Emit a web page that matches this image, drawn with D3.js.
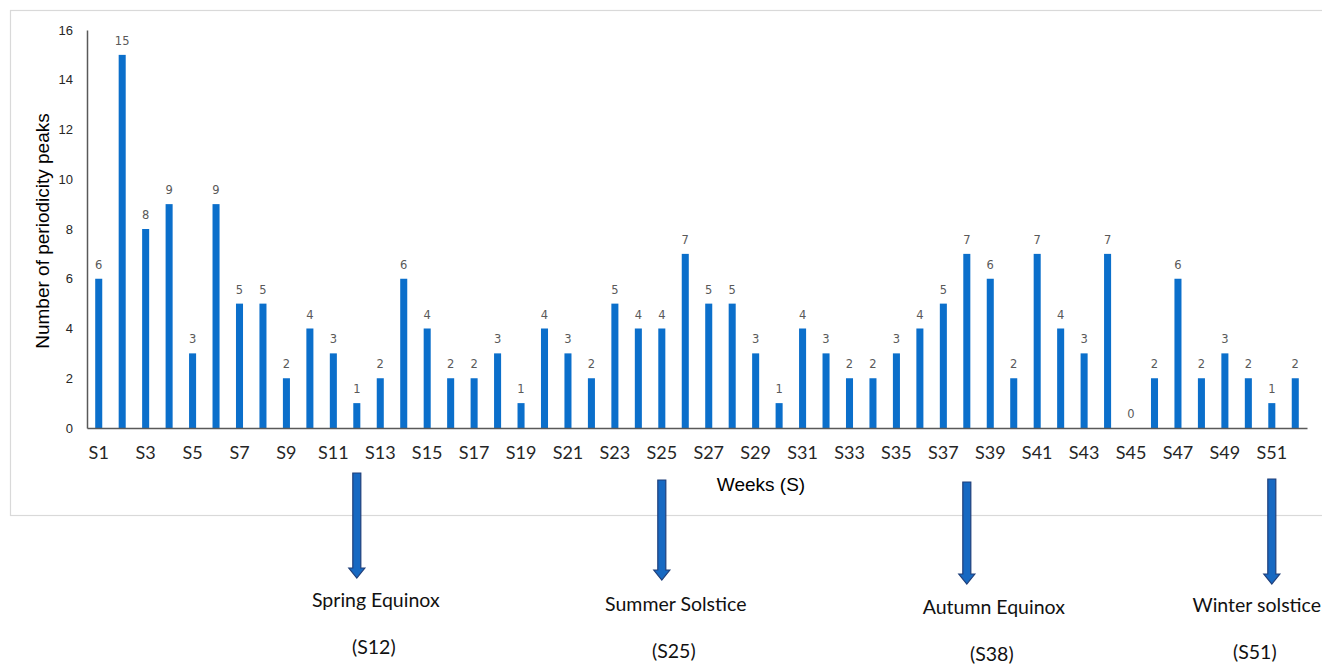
<!DOCTYPE html>
<html><head><meta charset="utf-8">
<script src="https://cdn.jsdelivr.net/npm/d3@7"></script>
<style>body{margin:0;background:#fff}svg{display:block}</style>
</head><body>
<svg id="chart" width="1322" height="664"></svg>
<script>
const weeks = d3.range(1, 53).map(i => "S" + i);
const peaks = [6,15,8,9,3,9,5,5,2,4,3,1,2,6,4,2,2,3,1,4,3,2,5,4,4,7,5,5,3,1,4,3,2,2,3,4,5,7,6,2,7,4,3,7,0,2,6,2,3,2,1,2];
const yTicks = [0,2,4,6,8,10,12,14,16];
const events = [
  {week: "S12", name: "Spring Equinox", code: "(S12)"},
  {week: "S25", name: "Summer Solstice", code: "(S25)"},
  {week: "S38", name: "Autumn Equinox", code: "(S38)"},
  {week: "S51", name: "Winter solstice", code: "(S51)"}
];

const svg = d3.select("#chart");
svg.append("rect").attr("x", 10.5).attr("y", 10.5).attr("width", 1330).attr("height", 505)
  .attr("fill", "none").attr("stroke", "#d9d9d9").attr("stroke-width", 1.2);

const x = d3.scaleBand().domain(weeks).range([87, 1307]).paddingInner(0.7).paddingOuter(0.35);
const y = d3.scaleLinear().domain([0, 16]).range([428, 30]);

svg.selectAll("rect.bar").data(peaks).join("rect").attr("class", "bar")
  .attr("x", (d, i) => x(weeks[i])).attr("width", x.bandwidth())
  .attr("y", d => y(d)).attr("height", d => y(0) - y(d))
  .attr("fill", "#0b6fcb");

svg.selectAll("text.val").data(peaks).join("text").attr("class", "val")
  .attr("x", (d, i) => x(weeks[i]) + x.bandwidth() / 2)
  .attr("y", d => y(d) - 10)
  .attr("text-anchor", "middle")
  .attr("font-family", "'DejaVu Sans', Verdana, sans-serif").attr("font-size", 11.5)
  .attr("fill", "#595959").text(d => d);

const yAxis = svg.append("g").attr("transform", "translate(87,0)")
  .call(d3.axisLeft(y).tickValues(yTicks).tickSize(0).tickPadding(14));
yAxis.select(".domain").attr("stroke", "#595959").attr("stroke-width", 1.5);
yAxis.selectAll("text").attr("font-family", "Arial, 'Liberation Sans', sans-serif")
  .attr("font-size", 13).attr("fill", "#262626");

const xAxis = svg.append("g").attr("transform", "translate(0,428)")
  .call(d3.axisBottom(x).tickValues(weeks.filter((d, i) => i % 2 === 0)).tickSize(0).tickPadding(18));
xAxis.select(".domain").attr("stroke", "#595959").attr("stroke-width", 1.5);
xAxis.selectAll("text").attr("font-family", "Lato, 'Open Sans', sans-serif")
  .attr("font-size", 18).attr("fill", "#262626");

svg.append("text").attr("transform", "translate(49,231) rotate(-90)")
  .attr("text-anchor", "middle").attr("font-family", "Arial, 'Liberation Sans', sans-serif")
  .attr("font-size", 19).attr("fill", "#000").text("Number of periodicity peaks");
svg.append("text").attr("x", 761).attr("y", 491)
  .attr("text-anchor", "middle").attr("font-family", "Arial, 'Liberation Sans', sans-serif")
  .attr("font-size", 19).attr("fill", "#000").text("Weeks (S)");

const arrowTop = {S12: 473, S25: 480, S38: 482, S51: 479};
const arrowBot = {S12: 578, S25: 580, S38: 584, S51: 584};
const labelY = {S12: 607, S25: 611, S38: 614, S51: 612};
const labelDx = {S12: 19, S25: 14, S38: 27, S51: -15};
events.forEach(ev => {
  const cx = x(ev.week) + x.bandwidth() / 2;
  const t = arrowTop[ev.week], b = arrowBot[ev.week];
  const sw = 4, hw = 8, hh = 10;
  const path = `M${cx - sw},${t} L${cx + sw},${t} L${cx + sw},${b - hh} L${cx + hw},${b - hh} L${cx},${b} L${cx - hw},${b - hh} L${cx - sw},${b - hh} Z`;
  svg.append("path").attr("d", path).attr("fill", "#1769c2").attr("stroke", "#1f3f7a").attr("stroke-width", 1.2);
  const lx = cx + labelDx[ev.week];
  svg.append("text").attr("x", lx).attr("y", labelY[ev.week]).attr("text-anchor", "middle")
    .attr("font-family", "Lato, 'Open Sans', sans-serif").attr("font-size", 19.5).attr("fill", "#111")
    .text(ev.name);
  svg.append("text").attr("x", lx - 2).attr("y", labelY[ev.week] + 47).attr("text-anchor", "middle")
    .attr("font-family", "Lato, 'Open Sans', sans-serif").attr("font-size", 19.5).attr("fill", "#111")
    .text(ev.code);
});
</script>
</body></html>
